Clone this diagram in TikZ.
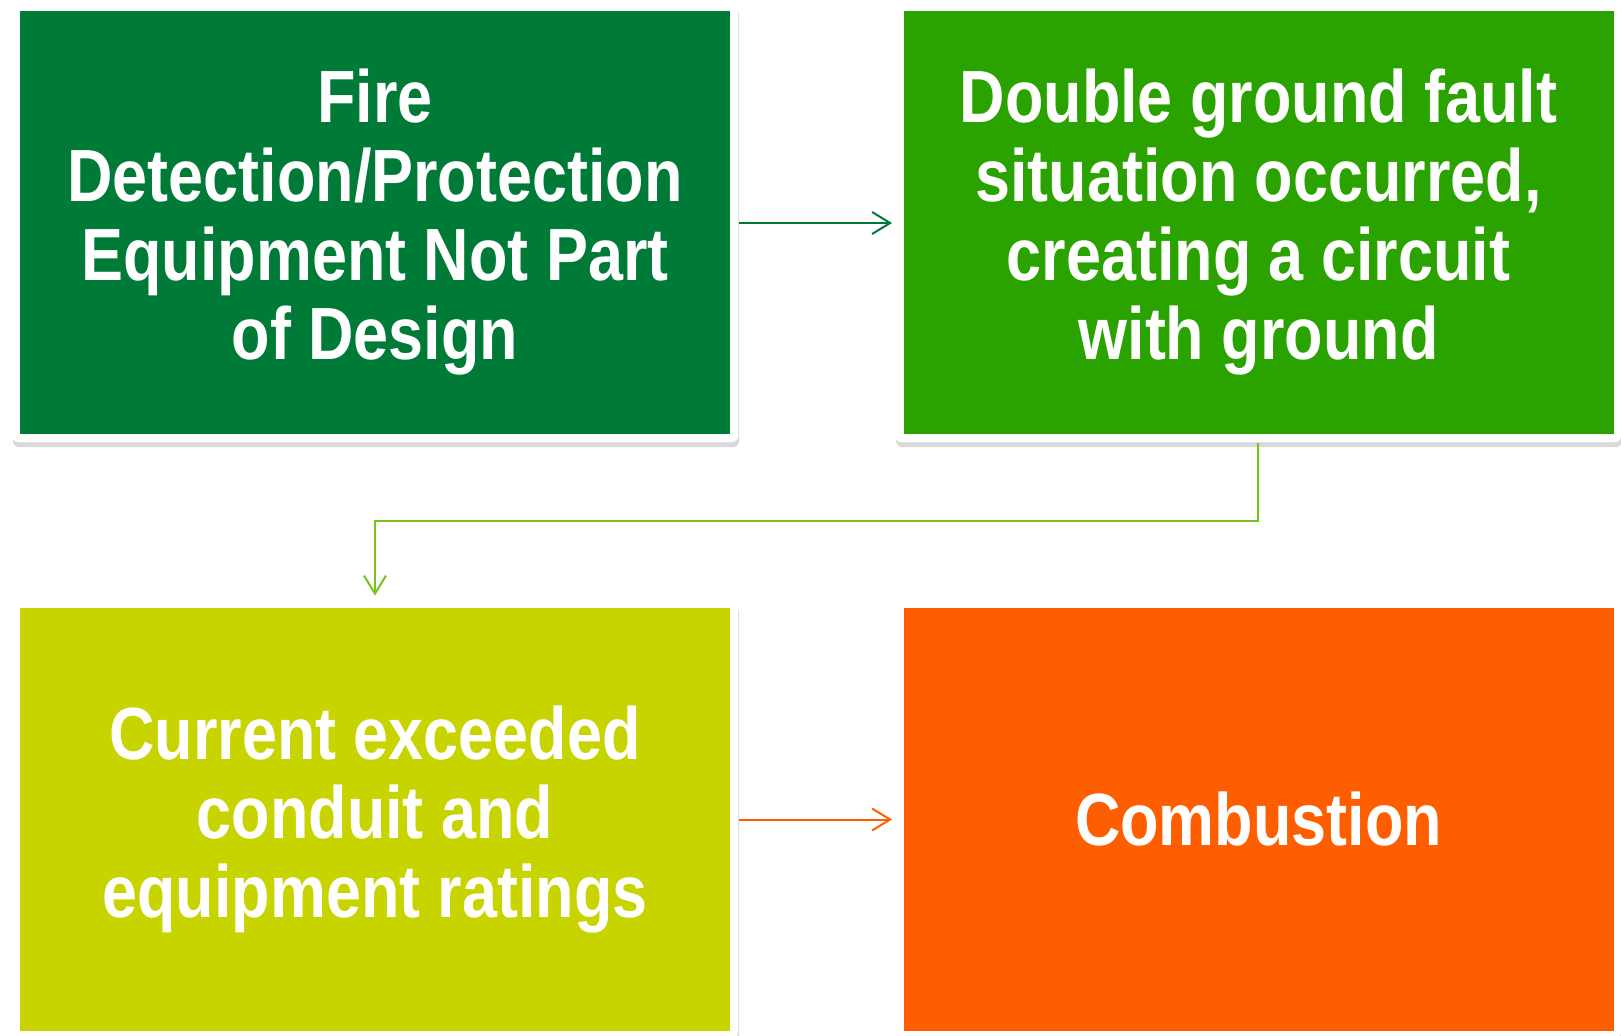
\documentclass[tikz,border=0pt]{standalone}
\usepackage{fontspec}
\setmainfont{Liberation Sans}[FakeStretch=0.85]
\usetikzlibrary{arrows.meta,shadows}
\definecolor{firegreen}{HTML}{007A37}
\definecolor{faultgreen}{HTML}{2AA300}
\definecolor{ratelime}{HTML}{C8D400}
\definecolor{burnorange}{HTML}{FF5E00}
\definecolor{linkgreen}{HTML}{78C31A}
\begin{document}
\begin{tikzpicture}[x=0.5pt,y=-0.5pt,>={Straight Barb[length=9pt,width=11pt]},line width=1pt,
  card/.style={fill=white,rounded corners=3pt,minimum width=363pt,minimum height=219pt,
    drop shadow={shadow xshift=0.5pt,shadow yshift=-2.5pt,opacity=0.3}},
  box/.style={minimum width=355pt,minimum height=211.5pt,text=white,align=center,
    font=\fontsize{37}{39.5}\selectfont\bfseries}]
  \useasboundingbox (0,0) rectangle (1621,1035);

  % weisse Karten
  \node[card] (f1) at (375,223) {};
  \node[card] (f2) at (1258,223) {};
  \node[card] (f3) at (375,819.5) {};
  \node[card] (f4) at (1258,819.5) {};

  % farbige Felder
  \node[box,fill=firegreen] (b1) at (375,222.5) {Fire\\Detection/Protection\\Equipment Not Part\\of Design};
  \node[box,fill=faultgreen] (b2) at (1258.5,222.5) {Double ground fault\\situation occurred,\\creating a circuit\\with ground};
  \node[box,fill=ratelime] (b3) at (375,819.5) {Current exceeded\\conduit and\\equipment ratings};
  \node[box,fill=burnorange] (b4) at (1258.5,819.5) {Combustion};

  % Pfeile
  \draw[->,firegreen,shorten >=1pt] (f1.east) -- (f2.west);
  \draw[->,linkgreen,shorten >=2pt] (f2.south) -- ++(0,78) -| (f3.north);
  \draw[->,burnorange,shorten >=1pt] (f3.east) -- (f4.west);
\end{tikzpicture}
\end{document}
